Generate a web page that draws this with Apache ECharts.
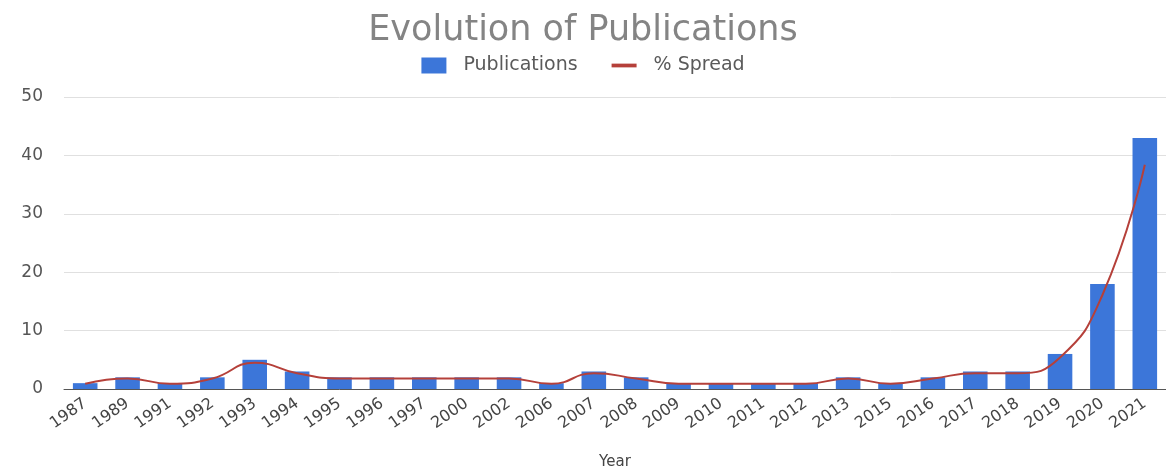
<!DOCTYPE html>
<html>
<head>
<meta charset="utf-8">
<script src="https://cdn.jsdelivr.net/npm/echarts@6/dist/echarts.min.js"></script>
<style>
  html, body { margin: 0; padding: 0; background: #fff; }
  #chart { width: 1166px; height: 470px; }
</style>
</head>
<body>
<div id="chart"></div>
<script>
// data
var years = ['1987','1989','1991','1992','1993','1994','1995','1996','1997','2000','2002','2006','2007',
             '2008','2009','2010','2011','2012','2013','2015','2016','2017','2018','2019','2020','2021'];
var publications = [1,2,1,2,5,3,2,2,2,2,2,1,3,2,1,1,1,1,2,1,2,3,3,6,18,43];
var spread = [0.9,1.8,0.9,1.8,4.5,2.7,1.8,1.8,1.8,1.8,1.8,0.9,2.7,1.8,0.9,0.9,0.9,0.9,1.8,0.9,1.8,2.7,2.7,5.4,16.1,38.4];
var yTicks = [0, 10, 20, 30, 40, 50];

var chart = echarts.init(document.getElementById('chart'));
var option = {
    animation: false,
    title: {
        text: 'Evolution of Publications',
        left: 'center',
        top: 8,
        textStyle: { color: '#848484', fontSize: 35, fontWeight: 'normal', fontFamily: 'DejaVu Sans' }
    },
    legend: {
        top: 51,
        left: 'center',
        itemGap: 34,
        itemWidth: 25,
        itemHeight: 16,
        textStyle: { color: '#5a5a5a', fontSize: 19, fontFamily: 'DejaVu Sans', padding: [0, 0, 0, 12] },
        data: [
            { name: 'Publications', icon: 'rect' },
            { name: '% Spread', icon: 'path://M0,7 L20,7 L20,10 L0,10 Z' }
        ]
    },
    grid: { left: 64, right: 0, top: 97, bottom: 81, outerBoundsMode: 'none' },
    xAxis: {
        type: 'category',
        data: years,
        name: 'Year',
        nameLocation: 'middle',
        nameGap: 66,
        nameTextStyle: { color: '#444', fontSize: 15, fontFamily: 'DejaVu Sans' },
        axisTick: { show: false },
        axisLine: { lineStyle: { color: '#555', width: 1 } },
        axisLabel: { rotate: 35, interval: 0, color: '#444', fontSize: 16, margin: 13, fontFamily: 'DejaVu Sans' }
    },
    yAxis: {
        type: 'value',
        min: yTicks[0],
        max: yTicks[yTicks.length - 1],
        interval: 10,
        axisLabel: { color: '#555', fontSize: 17, margin: 21, fontFamily: 'DejaVu Sans' },
        splitLine: { lineStyle: { color: '#e0e0e0' } }
    },
    series: [
        {
            name: 'Publications',
            type: 'bar',
            barWidth: '58%',
            data: publications,
            itemStyle: { color: '#3c76d9' }
        },
        {
            name: '% Spread',
            type: 'line',
            smooth: true,
            showSymbol: false,
            data: spread,
            lineStyle: { color: '#b5403a', width: 2 },
            itemStyle: { color: '#b5403a' }
        }
    ]
};
chart.setOption(option);
</script>
</body>
</html>
